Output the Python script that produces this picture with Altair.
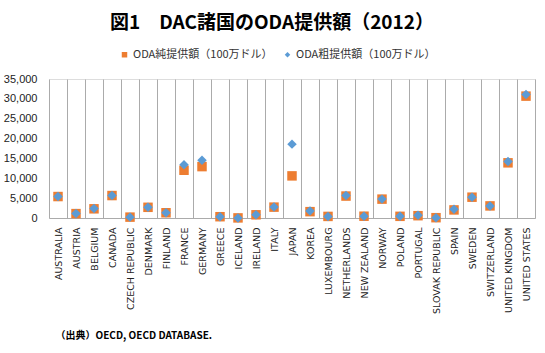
import altair as alt
import pandas as pd

countries = ["AUSTRALIA", "AUSTRIA", "BELGIUM", "CANADA", "CZECH REPUBLIC", "DENMARK",
             "FINLAND", "FRANCE", "GERMANY", "GREECE", "ICELAND", "IRELAND", "ITALY",
             "JAPAN", "KOREA", "LUXEMBOURG", "NETHERLANDS", "NEW ZEALAND", "NORWAY",
             "POLAND", "PORTUGAL", "SLOVAK REPUBLIC", "SPAIN", "SWEDEN", "SWITZERLAND",
             "UNITED KINGDOM", "UNITED STATES"]
net = [5403, 1106, 2315, 5650, 220, 2693, 1320, 12028, 12939, 327, 26, 808, 2737,
       10605, 1597, 399, 5523, 449, 4753, 421, 581, 80, 2037, 5240, 3045, 13892, 30687]
gross = [5440, 1132, 2374, 5678, 220, 2714, 1320, 13437, 14528, 327, 26, 808, 2794,
         18600, 1734, 399, 5662, 449, 4753, 421, 693, 80, 2214, 5240, 3045, 14200, 31100]
series_names = ["ODA純提供額（100万ドル）", "ODA粗提供額（100万ドル）"]

rows = []
for c, v in zip(countries, net):
    rows.append({"country": c, "value": v, "series": series_names[0]})
for c, v in zip(countries, gross):
    rows.append({"country": c, "value": v, "series": series_names[1]})
df = pd.DataFrame(rows)

legend = alt.Legend(title=None, orient="none", direction="horizontal",
                    legendX=70, legendY=-30, labelFont="Noto Sans CJK JP",
                    labelFontSize=11, labelColor="#333333", labelLimit=300,
                    symbolSize=30, columnPadding=9, labelOffset=3)

chart = alt.Chart(df).mark_point(filled=True, opacity=1, size=90).encode(
    x=alt.X("country:N", sort=countries,
            scale=alt.Scale(paddingInner=0, paddingOuter=0),
            axis=alt.Axis(title="（出典）OECD, OECD DATABASE.", labelAngle=-90,
                          labelFont="DejaVu Sans", labelFontSize=9.5, labelColor="#222222",
                          labelPadding=9, ticks=False, tickBand="extent",
                          grid=True, gridColor="#ABABAB", gridWidth=1,
                          domainColor="#ABABAB", domainWidth=1,
                          labelAlign="right", labelBaseline="middle",
                          titleAnchor="start", titleAlign="left", titleBaseline="middle",
                          titleX=6, titleY=117, titleFont="Noto Sans CJK JP",
                          titleFontSize=10, titleFontWeight="bold", titleColor="#000000")),
    y=alt.Y("value:Q", scale=alt.Scale(domain=[0, 35000], nice=False),
            axis=alt.Axis(title=None, values=[0, 5000, 10000, 15000, 20000, 25000, 30000, 35000],
                          format=",.0f", labelFont="Liberation Sans", labelFontSize=11,
                          labelColor="#222222", labelPadding=12, ticks=False,
                          domain=False, grid=False)),
    color=alt.Color("series:N", sort=series_names,
                    scale=alt.Scale(domain=series_names, range=["#ED7D31", "#5B9BD5"]),
                    legend=legend),
    shape=alt.Shape("series:N", sort=series_names,
                    scale=alt.Scale(domain=series_names, range=["square", "diamond"]),
                    legend=legend),
).properties(
    width=486, height=139,
    title=alt.TitleParams("図1　DAC諸国のODA提供額（2012）", font="Noto Sans CJK JP",
                          fontSize=19, fontWeight="bold", color="#000000",
                          anchor="middle", dx=-20, offset=16),
    autosize=alt.AutoSizeParams(type="none"),
    padding={"left": 49, "top": 79, "right": 10, "bottom": 135},
).configure_view(stroke=None).configure(background="white")

chart.save("out.html", embed_options={"renderer": "svg", "actions": False})
